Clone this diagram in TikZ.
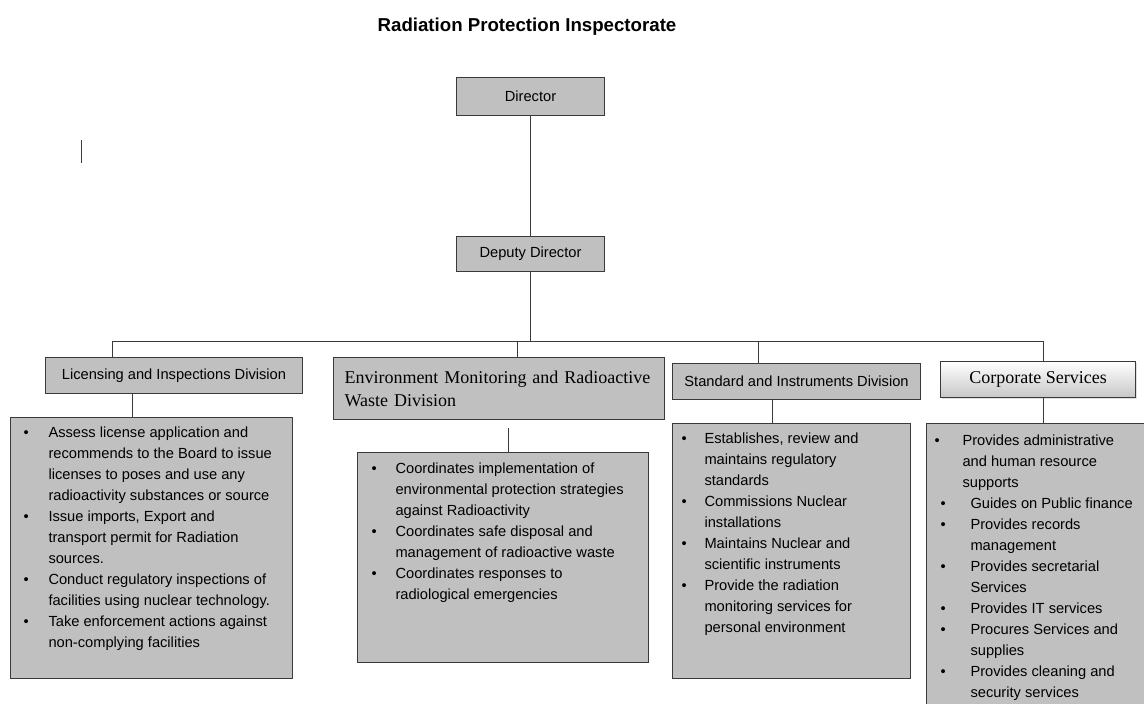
\documentclass[tikz,border=0pt]{standalone}
\usepackage{fontspec,enumitem}
\setmainfont{Liberation Sans}
\newfontfamily\tms{Liberation Serif}
\usetikzlibrary{positioning,shadows}
\definecolor{boxgray}{HTML}{C0C0C0}
\definecolor{edge}{HTML}{3A3A3A}
\setlist[itemize]{label=\textbullet,topsep=0pt,partopsep=0pt,itemsep=0pt,parsep=0pt,align=left,labelsep=0pt}
\newcommand{\tasks}[4]{\parbox[c][#2][t]{#1}{\raggedright\vspace*{#3}#4}}
\tikzset{hd/.style={draw=edge,fill=boxgray,line width=.75pt,anchor=north west,minimum width=111pt,font=\fontsize{11}{13}\selectfont},
 dv/.style={draw=edge,fill=boxgray,line width=.75pt,anchor=north west,minimum height=27pt,font=\fontsize{11}{13}\selectfont},
 ls/.style={draw=edge,fill=boxgray,line width=.75pt,anchor=north west,inner sep=0pt,font=\fontsize{11}{15.75}\selectfont},
 cs/.style={draw=edge,top color=white,bottom color=black!22,line width=.75pt,anchor=north west,
  minimum width=146.25pt,minimum height=27pt,font=\tms\fontsize{13.5}{16}\selectfont,
  drop shadow={opacity=.25,shadow xshift=1pt,shadow yshift=-1.2pt}},
 wire/.style={draw=edge,line width=.75pt}}
\begin{document}
\begin{tikzpicture}[x=.75pt,y=-.75pt]
\clip (0,0) rectangle (1144,703);
\node[font=\bfseries\fontsize{14}{16}\selectfont] (title) at (527,27) {Radiation Protection Inspectorate};
\draw[wire] (81,140) -- (81,163);
% top
\node[hd,minimum height=28.5pt] (dir) at (456,77) {Director};
\node[hd,minimum height=26.25pt] (dep) at (456,236) {Deputy Director};
% divisions
\node[dv,minimum width=192.75pt] (lic) at (45,357) {Licensing and Inspections Division};
\node[dv,minimum height=46.5pt,text width=231.75pt,inner xsep=8.25pt,align=left,
 font=\tms\fontsize{13.5}{17.25}\selectfont] (env) at (333,357) {Environment Monitoring and Radioactive\\Waste Division};
\node[dv,minimum width=186pt] (std) at (672,363) {Standard and Instruments Division};
\node[cs] (crp) at (940,361) {Corporate Services};
% duties
\node[ls] (licl) at (10,417) {\tasks{211.5pt}{195.75pt}{7pt}{%
 \begin{itemize}[leftmargin=28.5pt,labelwidth=18.75pt]
 \item Assess license application and\\recommends to the Board to issue\\licenses to poses and use any\\radioactivity substances or source
 \item Issue imports, Export and\\transport permit for Radiation\\sources.
 \item Conduct regulatory inspections of\\facilities using nuclear technology.
 \item Take enforcement actions against\\non-complying facilities
 \end{itemize}}};
\node[ls] (envl) at (357,452) {\tasks{218.25pt}{157.5pt}{7.75pt}{%
 \begin{itemize}[leftmargin=28.5pt,labelwidth=18pt]
 \item Coordinates implementation of\\environmental protection strategies\\against Radioactivity
 \item Coordinates safe disposal and\\management of radioactive waste
 \item Coordinates responses to\\radiological emergencies
 \end{itemize}}};
\node[ls] (stdl) at (672,423) {\tasks{178.5pt}{191.25pt}{7pt}{%
 \begin{itemize}[leftmargin=24pt,labelwidth=17.25pt]
 \item Establishes, review and\\maintains regulatory\\standards
 \item Commissions Nuclear\\installations
 \item Maintains Nuclear and\\scientific instruments
 \item Provide the radiation\\monitoring services for\\personal environment
 \end{itemize}}};
\node[ls] (crpl) at (926,423) {\tasks{175pt}{225pt}{8.5pt}{%
 \begin{itemize}[leftmargin=27pt,labelwidth=21pt]
 \item Provides administrative\\and human resource\\supports
 \end{itemize}
 \begin{itemize}[leftmargin=33pt,labelwidth=22.5pt]
 \item Guides on Public finance
 \item Provides records\\management
 \item Provides secretarial\\Services
 \item Provides IT services
 \item Procures Services and\\supplies
 \item Provides cleaning and\\security services
 \end{itemize}}};
% connectors
\coordinate (bl) at (112,341);\coordinate (br) at (1043,341);
\coordinate (t2) at (517,341);\coordinate (t3) at (758,341);
\coordinate (k1) at (132,0);\coordinate (k2) at (508,0);\coordinate (k3) at (772,0);
\draw[wire] (dir.south) -- (dep.north);
\draw[wire] (dep.south) -- (dep.south |- bl);
\draw[wire] (bl) -- (br);
\draw[wire] (bl) -- (bl |- lic.north);
\draw[wire] (t2) -- (t2 |- env.north);
\draw[wire] (t3) -- (t3 |- std.north);
\draw[wire] (br) -- (br |- crp.north);
\draw[wire] (lic.south -| k1) -- (licl.north -| k1);
\draw[wire] ([yshift=-6pt]env.south -| k2) -- (envl.north -| k2);
\draw[wire] (std.south -| k3) -- (stdl.north -| k3);
\draw[wire] (crp.south -| br) -- (crpl.north -| br);
\end{tikzpicture}
\end{document}
